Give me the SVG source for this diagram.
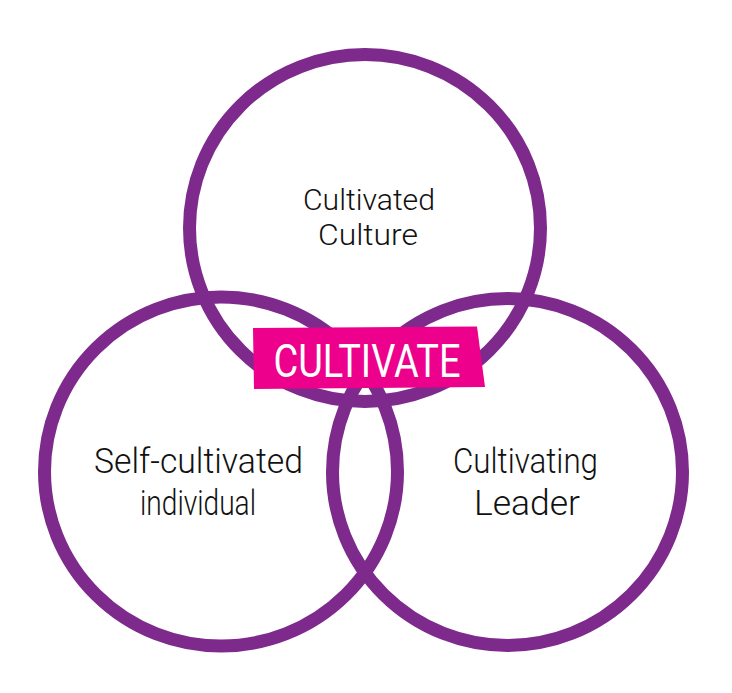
<svg xmlns="http://www.w3.org/2000/svg" width="732" height="693" viewBox="0 0 732 693">
  <style>
    .ring { fill: none; stroke: #7E2A8D; stroke-width: 13; }
    .lbl { font-family: Roboto, "Liberation Sans", sans-serif; font-weight: 300; fill: #111111; text-anchor: middle; }
    .tag { font-family: Roboto, "Liberation Sans", sans-serif; font-weight: 400; fill: #FFFFFF; text-anchor: middle; }
  </style>
  <rect width="732" height="693" fill="#FFFFFF"/>
  <g id="circle-culture">
    <ellipse class="ring" cx="365" cy="228" rx="175.5" ry="173.5"/>
    <text class="lbl" x="369" y="210" font-size="30" textLength="132" lengthAdjust="spacingAndGlyphs">Cultivated</text>
    <text class="lbl" x="368" y="245" font-size="30" textLength="100" lengthAdjust="spacingAndGlyphs">Culture</text>
  </g>
  <g id="circle-individual">
    <ellipse class="ring" cx="221" cy="471.5" rx="176.5" ry="174.5"/>
    <text class="lbl" x="198.5" y="473" font-size="35" textLength="209" lengthAdjust="spacingAndGlyphs">Self-cultivated</text>
    <text class="lbl" x="198" y="515" font-size="35" textLength="116" lengthAdjust="spacingAndGlyphs">individual</text>
  </g>
  <g id="circle-leader">
    <ellipse class="ring" cx="507.5" cy="472" rx="175" ry="173.5"/>
    <text class="lbl" x="525.5" y="473" font-size="35" textLength="145" lengthAdjust="spacingAndGlyphs">Cultivating</text>
    <text class="lbl" x="527" y="515" font-size="35" textLength="106" lengthAdjust="spacingAndGlyphs">Leader</text>
  </g>
  <g id="label-cultivate">
    <polygon points="253,328 477,326.5 485,387 254,389" fill="#EC008C"/>
    <text class="tag" x="367" y="377" font-size="46" textLength="187" lengthAdjust="spacingAndGlyphs">CULTIVATE</text>
  </g>
</svg>
